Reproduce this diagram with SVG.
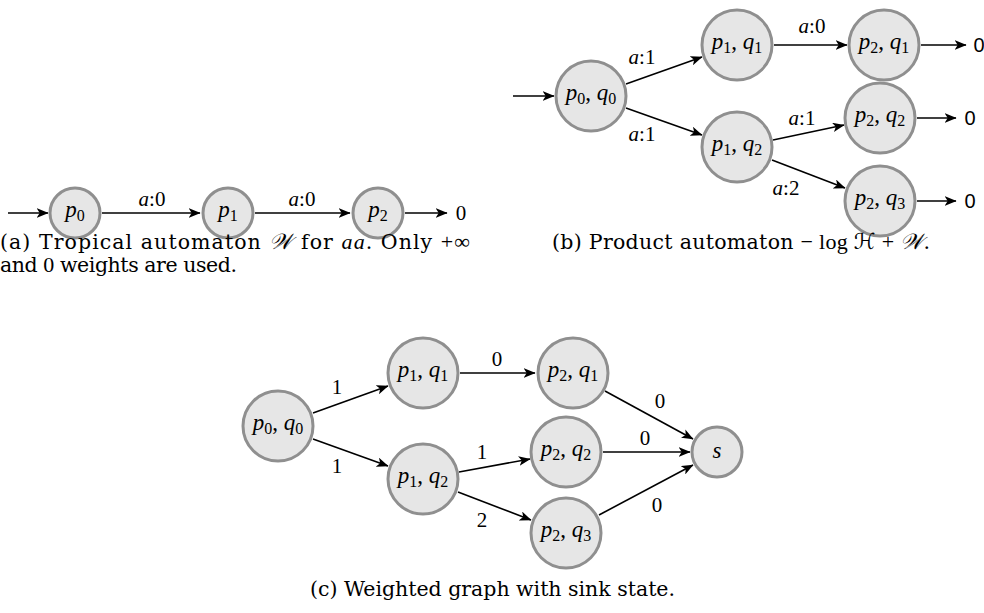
<svg xmlns="http://www.w3.org/2000/svg" width="984" height="613" viewBox="0 0 984 613">
<style>
.node circle{fill:#e6e6e6;stroke:#8f8f8f;stroke-width:3}
.edge{stroke:#000;stroke-width:1.6;fill:none;marker-end:url(#arr)}
.m{font-family:"Liberation Serif",serif;font-size:23px;fill:#000}
.i{font-style:italic}
.sub{font-size:16px}
.lbl{font-family:"Liberation Serif",serif;font-size:21px;fill:#000}
.cap{font-family:"DejaVu Serif","Liberation Serif",serif;font-size:20.5px;fill:#000}
.cm{font-family:"Liberation Serif",serif;font-size:22px}
.sans{font-family:"Liberation Sans",sans-serif;font-size:20px;fill:#000}
</style>
<defs>
<marker id="arr" viewBox="0 0 10 8" refX="9.5" refY="4" markerWidth="12" markerHeight="9.5" orient="auto" markerUnits="userSpaceOnUse">
<path d="M0,0 L10,4 L0,8 L2.5,4 z" fill="#000"/>
</marker>
</defs>

<!-- Panel (a) -->
<g id="a-connectors">
<line class="edge" x1="8" y1="213" x2="48" y2="213"/>
<line class="edge" x1="102" y1="213" x2="200" y2="213"/>
<line class="edge" x1="255" y1="213" x2="350" y2="213"/>
<line class="edge" x1="405" y1="213" x2="447" y2="213"/>
<text class="lbl" x="152" y="206" text-anchor="middle"><tspan class="i">a</tspan>:0</text>
<text class="lbl" x="302" y="206" text-anchor="middle"><tspan class="i">a</tspan>:0</text>
<text class="lbl" x="461" y="220" text-anchor="middle">0</text>
</g>
<g id="a-p0" class="node"><circle cx="75" cy="213" r="25"/><text class="m" x="75" y="217" text-anchor="middle"><tspan class="i">p</tspan><tspan class="sub" dy="4">0</tspan></text></g>
<g id="a-p1" class="node"><circle cx="228" cy="213" r="25"/><text class="m" x="228" y="217" text-anchor="middle"><tspan class="i">p</tspan><tspan class="sub" dy="4">1</tspan></text></g>
<g id="a-p2" class="node"><circle cx="378" cy="213" r="25"/><text class="m" x="378" y="217" text-anchor="middle"><tspan class="i">p</tspan><tspan class="sub" dy="4">2</tspan></text></g>
<text class="cap" x="0" y="249" textLength="470" lengthAdjust="spacing">(a) Tropical automaton <tspan class="cm i">𝒲</tspan> for <tspan class="cm i">aa</tspan>. Only <tspan class="cm">+∞</tspan></text>
<text class="cap" x="0" y="272" textLength="237" lengthAdjust="spacing">and <tspan class="cm">0</tspan> weights are used.</text>

<!-- Panel (b) -->
<g id="b-connectors">
<line class="edge" x1="513" y1="96" x2="554" y2="96"/>
<line class="edge" x1="626" y1="84" x2="702" y2="57"/>
<line class="edge" x1="626" y1="108" x2="702" y2="135"/>
<line class="edge" x1="774" y1="45" x2="847" y2="45"/>
<line class="edge" x1="773" y1="140" x2="844" y2="125"/>
<line class="edge" x1="772" y1="160" x2="845" y2="188"/>
<line class="edge" x1="921" y1="45" x2="966" y2="45"/>
<line class="edge" x1="917" y1="118" x2="956" y2="118"/>
<line class="edge" x1="917" y1="201" x2="956" y2="201"/>
<text class="lbl" x="642" y="64" text-anchor="middle"><tspan class="i">a</tspan>:1</text>
<text class="lbl" x="642" y="141" text-anchor="middle"><tspan class="i">a</tspan>:1</text>
<text class="lbl" x="812" y="33" text-anchor="middle"><tspan class="i">a</tspan>:0</text>
<text class="lbl" x="802" y="125" text-anchor="middle"><tspan class="i">a</tspan>:1</text>
<text class="lbl" x="786" y="195" text-anchor="middle"><tspan class="i">a</tspan>:2</text>
<text class="sans" x="979" y="52" text-anchor="middle">0</text>
<text class="sans" x="970" y="125" text-anchor="middle">0</text>
<text class="sans" x="970" y="208" text-anchor="middle">0</text>
</g>
<g id="b-p0q0" class="node"><circle cx="591" cy="96" r="35"/><text class="m" x="591" y="100" text-anchor="middle"><tspan class="i">p</tspan><tspan class="sub" dy="4">0</tspan><tspan dy="-4">, </tspan><tspan class="i">q</tspan><tspan class="sub" dy="4">0</tspan></text></g>
<g id="b-p1q1" class="node"><circle cx="737" cy="45" r="35"/><text class="m" x="737" y="49" text-anchor="middle"><tspan class="i">p</tspan><tspan class="sub" dy="4">1</tspan><tspan dy="-4">, </tspan><tspan class="i">q</tspan><tspan class="sub" dy="4">1</tspan></text></g>
<g id="b-p2q1" class="node"><circle cx="884" cy="45" r="35"/><text class="m" x="884" y="49" text-anchor="middle"><tspan class="i">p</tspan><tspan class="sub" dy="4">2</tspan><tspan dy="-4">, </tspan><tspan class="i">q</tspan><tspan class="sub" dy="4">1</tspan></text></g>
<g id="b-p1q2" class="node"><circle cx="737" cy="147" r="35"/><text class="m" x="737" y="151" text-anchor="middle"><tspan class="i">p</tspan><tspan class="sub" dy="4">1</tspan><tspan dy="-4">, </tspan><tspan class="i">q</tspan><tspan class="sub" dy="4">2</tspan></text></g>
<g id="b-p2q2" class="node"><circle cx="880" cy="118" r="35"/><text class="m" x="880" y="122" text-anchor="middle"><tspan class="i">p</tspan><tspan class="sub" dy="4">2</tspan><tspan dy="-4">, </tspan><tspan class="i">q</tspan><tspan class="sub" dy="4">2</tspan></text></g>
<g id="b-p2q3" class="node"><circle cx="880" cy="201" r="35"/><text class="m" x="880" y="205" text-anchor="middle"><tspan class="i">p</tspan><tspan class="sub" dy="4">2</tspan><tspan dy="-4">, </tspan><tspan class="i">q</tspan><tspan class="sub" dy="4">3</tspan></text></g>
<text class="cap" x="552" y="249" textLength="378" lengthAdjust="spacing">(b) Product automaton <tspan class="cm">− log </tspan><tspan font-family="DejaVu Sans" font-size="22px">ℋ</tspan><tspan class="cm"> + </tspan><tspan class="cm i">𝒲</tspan>.</text>

<!-- Panel (c) -->
<g id="c-connectors">
<line class="edge" x1="313" y1="413" x2="388" y2="386"/>
<line class="edge" x1="313" y1="439" x2="388" y2="466"/>
<line class="edge" x1="460" y1="373" x2="535" y2="373"/>
<line class="edge" x1="459" y1="472" x2="530" y2="459"/>
<line class="edge" x1="458" y1="492" x2="531" y2="520"/>
<line class="edge" x1="605" y1="391" x2="693" y2="439"/>
<line class="edge" x1="603" y1="452" x2="690" y2="452"/>
<line class="edge" x1="599" y1="515" x2="693" y2="465"/>
<text class="lbl" x="337" y="394" text-anchor="middle">1</text>
<text class="lbl" x="337" y="473" text-anchor="middle">1</text>
<text class="lbl" x="497" y="366" text-anchor="middle">0</text>
<text class="lbl" x="482" y="459" text-anchor="middle">1</text>
<text class="lbl" x="482" y="527" text-anchor="middle">2</text>
<text class="lbl" x="660" y="408" text-anchor="middle">0</text>
<text class="lbl" x="645" y="445" text-anchor="middle">0</text>
<text class="lbl" x="657" y="512" text-anchor="middle">0</text>
</g>
<g id="c-p0q0" class="node"><circle cx="278" cy="426" r="35"/><text class="m" x="278" y="430" text-anchor="middle"><tspan class="i">p</tspan><tspan class="sub" dy="4">0</tspan><tspan dy="-4">, </tspan><tspan class="i">q</tspan><tspan class="sub" dy="4">0</tspan></text></g>
<g id="c-p1q1" class="node"><circle cx="423" cy="373" r="35"/><text class="m" x="423" y="377" text-anchor="middle"><tspan class="i">p</tspan><tspan class="sub" dy="4">1</tspan><tspan dy="-4">, </tspan><tspan class="i">q</tspan><tspan class="sub" dy="4">1</tspan></text></g>
<g id="c-p2q1" class="node"><circle cx="573" cy="373" r="35"/><text class="m" x="573" y="377" text-anchor="middle"><tspan class="i">p</tspan><tspan class="sub" dy="4">2</tspan><tspan dy="-4">, </tspan><tspan class="i">q</tspan><tspan class="sub" dy="4">1</tspan></text></g>
<g id="c-p1q2" class="node"><circle cx="423" cy="479" r="35"/><text class="m" x="423" y="483" text-anchor="middle"><tspan class="i">p</tspan><tspan class="sub" dy="4">1</tspan><tspan dy="-4">, </tspan><tspan class="i">q</tspan><tspan class="sub" dy="4">2</tspan></text></g>
<g id="c-p2q2" class="node"><circle cx="566" cy="452" r="35"/><text class="m" x="566" y="456" text-anchor="middle"><tspan class="i">p</tspan><tspan class="sub" dy="4">2</tspan><tspan dy="-4">, </tspan><tspan class="i">q</tspan><tspan class="sub" dy="4">2</tspan></text></g>
<g id="c-p2q3" class="node"><circle cx="566" cy="533" r="35"/><text class="m" x="566" y="537" text-anchor="middle"><tspan class="i">p</tspan><tspan class="sub" dy="4">2</tspan><tspan dy="-4">, </tspan><tspan class="i">q</tspan><tspan class="sub" dy="4">3</tspan></text></g>
<g id="c-s" class="node"><circle cx="717" cy="452" r="25"/><text class="m i" x="717" y="458" text-anchor="middle">s</text></g>
<text class="cap" x="310" y="596" textLength="365" lengthAdjust="spacing">(c) Weighted graph with sink state.</text>
</svg>
